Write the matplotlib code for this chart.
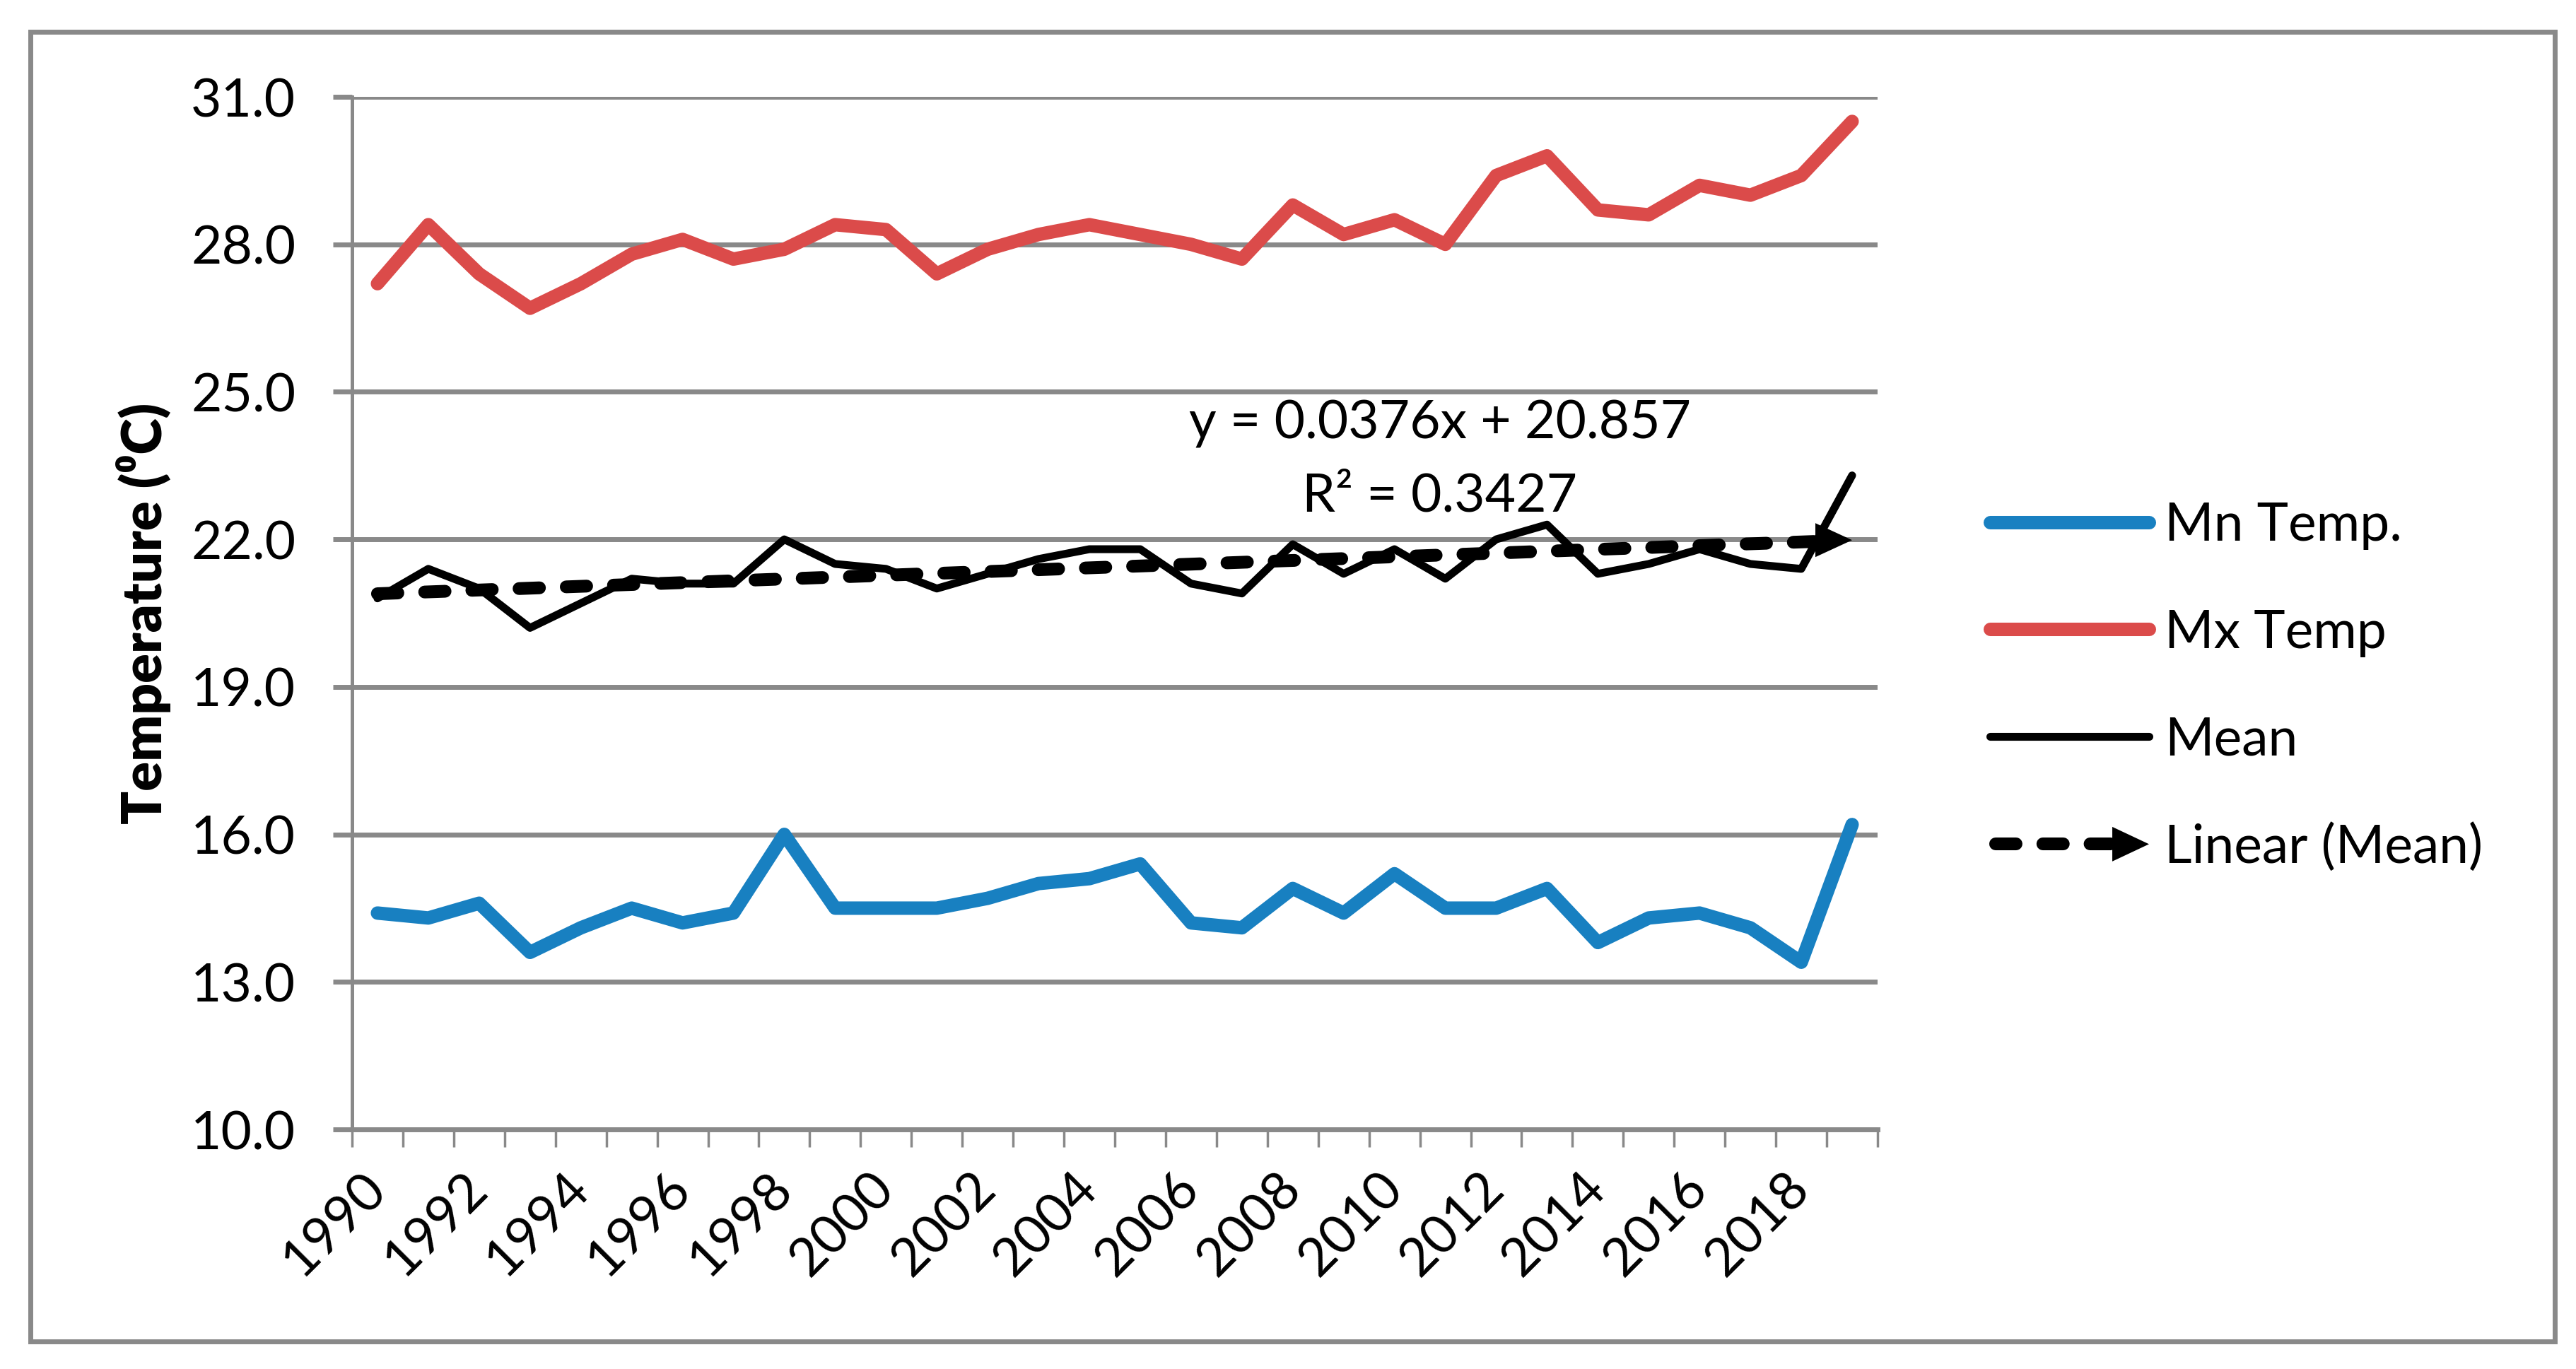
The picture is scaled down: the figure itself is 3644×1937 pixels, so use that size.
import numpy as np
import matplotlib
matplotlib.use("Agg")
import matplotlib.pyplot as plt
import matplotlib.transforms as mtransforms
from matplotlib.lines import Line2D
from matplotlib.patches import Polygon, Rectangle
from matplotlib.legend_handler import HandlerBase

# ---------------- data ----------------
years = list(range(1990, 2020))
mn_temp = [14.4, 14.3, 14.6, 13.6, 14.1, 14.5, 14.2, 14.4, 16.0, 14.5,
           14.5, 14.5, 14.7, 15.0, 15.1, 15.4, 14.2, 14.1, 14.9, 14.4,
           15.2, 14.5, 14.5, 14.9, 13.8, 14.3, 14.4, 14.1, 13.4, 16.2]
mx_temp = [27.2, 28.4, 27.4, 26.7, 27.2, 27.8, 28.1, 27.7, 27.9, 28.4,
           28.3, 27.4, 27.9, 28.2, 28.4, 28.2, 28.0, 27.7, 28.8, 28.2,
           28.5, 28.0, 29.4, 29.8, 28.7, 28.6, 29.2, 29.0, 29.4, 30.5]
mean_temp = [20.8, 21.4, 21.0, 20.2, 20.7, 21.2, 21.1, 21.1, 22.0, 21.5,
             21.4, 21.0, 21.3, 21.6, 21.8, 21.8, 21.1, 20.9, 21.9, 21.3,
             21.8, 21.2, 22.0, 22.3, 21.3, 21.5, 21.8, 21.5, 21.4, 23.3]
trend_slope = 0.0376
trend_intercept = 20.857
r_squared = 0.3427
series_labels = ["Mn Temp.", "Mx Temp", "Mean", "Linear (Mean)"]
y_ticks = [10, 13, 16, 19, 22, 25, 28, 31]
x_label_years = years[::2]
y_label = "Temperature (\u2070C)"

# ---------------- style ----------------
BLUE = "#1880C1"
RED = "#DB4B4A"
BLACK = "#000000"
GRAY = "#898989"
FS = 54
plt.rcParams["font.family"] = ["Lato", "DejaVu Sans"]

W, H, DPI = 36.44, 19.37, 100
fig = plt.figure(figsize=(W, H), dpi=DPI)
fig.patch.set_facecolor("white")
ax = fig.add_axes([0.13666, 0.17501, 0.59220, 0.75426])

line_kw = dict(solid_joinstyle="round", solid_capstyle="round", clip_on=False)
ax.plot(years, mn_temp, color=BLUE, lw=13.7, zorder=3, label=series_labels[0], **line_kw)
ax.plot(years, mx_temp, color=RED, lw=13.7, zorder=3, label=series_labels[1], **line_kw)
ax.plot(years, mean_temp, color=BLACK, lw=8, zorder=4, label=series_labels[2], **line_kw)

# linear trendline of the mean (x = 1..n as in Excel)
x_end = years[-1] - 0.6
tx = np.array([years[0], x_end], dtype=float)
ty = trend_intercept + trend_slope * (tx - years[0] + 1)
trend_line, = ax.plot(tx, ty, color=BLACK, lw=13, linestyle=(0, (1.6, 2.1)),
                      dash_capstyle="round", zorder=5, label=series_labels[3], clip_on=False)
tip_y = trend_intercept + trend_slope * len(years)
head_trans = fig.dpi_scale_trans + mtransforms.ScaledTranslation(years[-1], tip_y, ax.transData)
ax.add_patch(Polygon([[0, 0], [-0.52, 0.24], [-0.52, -0.24]], closed=True,
                     facecolor=BLACK, edgecolor="none", transform=head_trans,
                     zorder=6, clip_on=False))

# axes
ax.set_xlim(years[0] - 0.5, years[-1] + 0.5)
ax.set_ylim(y_ticks[0], y_ticks[-1])
ax.set_yticks(y_ticks)
ax.set_yticklabels([f"{v:.1f}" for v in y_ticks], fontsize=FS)
ax.set_xticks(x_label_years)
ax.set_xticklabels([str(y) for y in x_label_years], fontsize=FS)
ax.set_xticks(np.arange(years[0] - 0.5, years[-1] + 1.0, 1.0), minor=True)
ax.tick_params(axis="x", which="major", length=0, pad=52)
ax.tick_params(axis="x", which="minor", length=18, width=2.5, color=GRAY)
ax.tick_params(axis="y", which="major", length=19.4, width=5, color=GRAY, pad=38)
for lab in ax.get_xticklabels():
    lab.set_rotation(45)
    lab.set_ha("right")
    lab.set_va("center")
    lab.set_rotation_mode("anchor")

ax.grid(axis="y", color=GRAY, lw=5, zorder=1)
ax.set_axisbelow(True)
for s in ["top", "right"]:
    ax.spines[s].set_visible(False)
ax.spines["left"].set_color(GRAY)
ax.spines["left"].set_linewidth(3.6)
ax.spines["bottom"].set_color(GRAY)
ax.spines["bottom"].set_linewidth(5)

ax.set_ylabel(y_label, fontsize=56, fontweight="heavy")
ax.yaxis.set_label_coords(-0.1186, 0.5)

# trendline equation
fig.text(0.559, 0.6799, f"y = {trend_slope}x + {trend_intercept}", ha="center",
         va="baseline", fontsize=FS)
fig.text(0.559, 0.6267, f"R\u00b2 = {r_squared}", ha="center", va="baseline", fontsize=FS)


# legend with an arrow-ended dashed handle for the trendline
class ArrowLineHandler(HandlerBase):
    def create_artists(self, legend, orig_handle, xdescent, ydescent, width,
                       height, fontsize, trans):
        y = height / 2 - ydescent
        x0 = -xdescent
        x1 = width - xdescent
        head_len, head_half = 37.4, 17.6
        ln = Line2D([x0 + 6, x1 - head_len], [y, y], color=BLACK, lw=orig_handle.get_linewidth(),
                    linestyle=(0, (1.6, 2.1)), dash_capstyle="round", transform=trans)
        hd = Polygon([[x1, y], [x1 - head_len, y + head_half], [x1 - head_len, y - head_half]],
                     closed=True, facecolor=BLACK, edgecolor="none", transform=trans)
        return [ln, hd]


handles, labels = ax.get_legend_handles_labels()
leg = ax.legend(handles, labels, loc="center left", bbox_to_anchor=(0.7725, 0.4985),
                bbox_transform=fig.transFigure, frameon=False, fontsize=FS,
                handlelength=3.0, handletextpad=0.3, labelspacing=1.10,
                borderpad=0, borderaxespad=0,
                handler_map={trend_line: ArrowLineHandler()})
for lh in leg.get_lines():
    lh.set_solid_capstyle("round")

# outer chart border
fig.add_artist(Rectangle((0.0118, 0.0201), 0.9800, 0.9567, transform=fig.transFigure,
                         fill=False, edgecolor=GRAY, lw=5))

fig.savefig("out.png", dpi=DPI, facecolor="white")
